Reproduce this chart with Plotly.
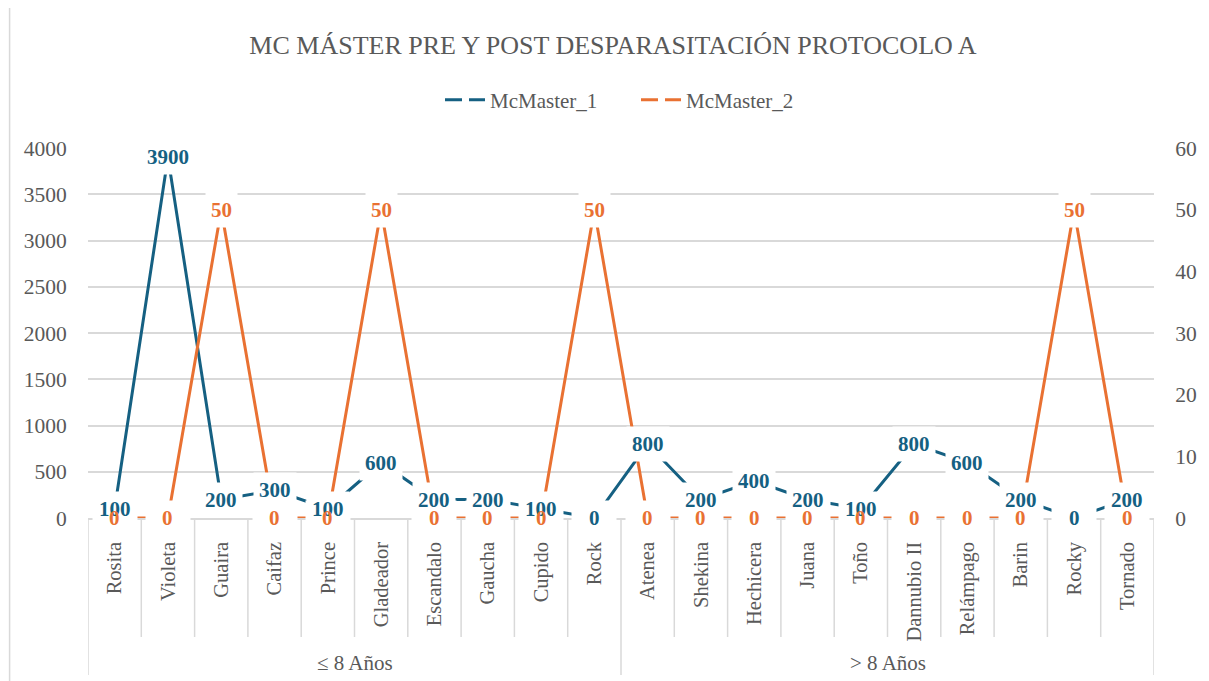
import plotly.graph_objects as go

categories = ["Rosita", "Violeta", "Guaira", "Caifaz", "Prince", "Gladeador", "Escandalo",
              "Gaucha", "Cupido", "Rock", "Atenea", "Shekina", "Hechicera", "Juana", "Toño",
              "Dannubio II", "Relámpago", "Barin", "Rocky", "Tornado"]
groups = ["≤ 8 Años", "> 8 Años"]
group_sizes = [10, 10]
mcmaster_1 = [100, 3900, 200, 300, 100, 600, 200, 200, 100, 0,
              800, 200, 400, 200, 100, 800, 600, 200, 0, 200]
mcmaster_2 = [0, 0, 50, 0, 0, 50, 0, 0, 0, 50,
              0, 0, 0, 0, 0, 0, 0, 0, 50, 0]
left_ticks = list(range(0, 4001, 500))
right_ticks = list(range(0, 61, 10))

BLUE = "#156082"
ORANGE = "#E97132"
GREY = "#595959"
GRID = "#D9D9D9"
FONT = "Liberation Serif"

# page offset (browser body margin)
OFF = 8
SW, SH = 1209, 681              # screenshot size
W, H = SW - OFF, SH - OFF       # figure size
PL, PR, PT, PB = 88, 1162, 148, 518   # plot area in screenshot pixels
PW, PH = PR - PL, PB - PT


def px_x(p):
    return (p - PL) / PW


def px_y(p):
    return (PB - p) / PH


def cx(p):
    return (p - OFF) / W


def cy(p):
    return 1 - (p - OFF) / H


fig = go.Figure()
fig.add_trace(go.Scatter(x=categories, y=mcmaster_1, mode="lines", name="McMaster_1",
                         line=dict(color=BLUE, width=3), showlegend=False,
                         cliponaxis=False, yaxis="y"))
fig.add_trace(go.Scatter(x=categories, y=mcmaster_2, mode="lines", name="McMaster_2",
                         line=dict(color=ORANGE, width=3), showlegend=False,
                         cliponaxis=False, yaxis="y2"))
# legend entries (dashed symbols)
fig.add_trace(go.Scatter(x=[None], y=[None], mode="lines", name="McMaster_1",
                         line=dict(color=BLUE, width=3, dash="17px,7px")))
fig.add_trace(go.Scatter(x=[None], y=[None], mode="lines", name="McMaster_2",
                         line=dict(color=ORANGE, width=3, dash="17px,7px"), yaxis="y2"))

LABEL_PAD = 5


def box_width(v):
    # zero-value labels sit in a wider label box
    return 34 if v == 0 else None


annotations = []
# white label boxes first
for series, yref in ((mcmaster_1, "y"), (mcmaster_2, "y2")):
    for c, v in zip(categories, series):
        annotations.append(dict(x=c, y=v, xref="x", yref=yref, text=f"<b>{v}</b>",
                                showarrow=False, bgcolor="white", borderpad=LABEL_PAD,
                                width=box_width(v),
                                font=dict(family=FONT, size=21, color="rgba(0,0,0,0)")))
# label texts
for series, yref, col in ((mcmaster_1, "y", BLUE), (mcmaster_2, "y2", ORANGE)):
    for c, v in zip(categories, series):
        annotations.append(dict(x=c, y=v, xref="x", yref=yref, text=f"<b>{v}</b>",
                                showarrow=False, borderpad=LABEL_PAD,
                                font=dict(family=FONT, size=21, color=col)))

# group labels
start = 0
for g, n in zip(groups, group_sizes):
    annotations.append(dict(x=start + (n - 1) / 2, y=px_y(663), xref="x", yref="paper",
                            text=g, showarrow=False, yanchor="middle",
                            font=dict(family=FONT, size=21, color=GREY)))
    start += n

shapes = []
bounds = [0]
for n in group_sizes:
    bounds.append(bounds[-1] + n)
for i in range(len(categories) + 1):
    y1 = px_y(675) if i in bounds else px_y(637)
    shapes.append(dict(type="line", xref="x", yref="paper", x0=i - 0.5, x1=i - 0.5,
                       y0=0, y1=y1, line=dict(color=GRID, width=1.5), layer="below"))
# chart border (left edge)
shapes.append(dict(type="line", xref="paper", yref="paper", x0=px_x(9), x1=px_x(9),
                   y0=px_y(0), y1=px_y(SH + 5), line=dict(color=GRID, width=1.5)))

fig.update_layout(
    width=W, height=H,
    margin=dict(l=PL - OFF, r=SW - PR, t=PT - OFF, b=SH - PB),
    paper_bgcolor="white", plot_bgcolor="white",
    title=dict(text="MC MÁSTER PRE Y POST DESPARASITACIÓN PROTOCOLO A",
               x=cx(613), xref="container", xanchor="center",
               y=cy(45), yref="container", yanchor="middle",
               font=dict(family=FONT, size=26, color=GREY)),
    legend=dict(orientation="h", x=cx(440), xref="container", xanchor="left",
                y=cy(100), yref="container", yanchor="middle",
                font=dict(family=FONT, size=21, color=GREY), itemwidth=40,
                entrywidth=141, bgcolor="rgba(0,0,0,0)"),
    xaxis=dict(type="category", range=[-0.5, len(categories) - 0.5], tickangle=-90,
               tickfont=dict(family=FONT, size=20.5, color=GREY),
               ticks="outside", ticklen=14, tickcolor="rgba(0,0,0,0)",
               showgrid=False, showline=True, linecolor=GRID, linewidth=1.5,
               zeroline=False, fixedrange=True),
    yaxis=dict(range=[0, 4000], tickvals=left_ticks, showgrid=True, gridcolor=GRID,
               gridwidth=1.5, zeroline=False, showline=False,
               tickfont=dict(family=FONT, size=21.5, color=GREY),
               ticks="outside", ticklen=16, tickcolor="rgba(0,0,0,0)"),
    yaxis2=dict(range=[0, 60], tickvals=right_ticks, overlaying="y", side="right",
                showgrid=False, zeroline=False, showline=False,
                tickfont=dict(family=FONT, size=21.5, color=GREY),
                ticks="outside", ticklen=16, tickcolor="rgba(0,0,0,0)"),
    annotations=annotations,
    shapes=shapes,
)

fig.write_html("out.html")
